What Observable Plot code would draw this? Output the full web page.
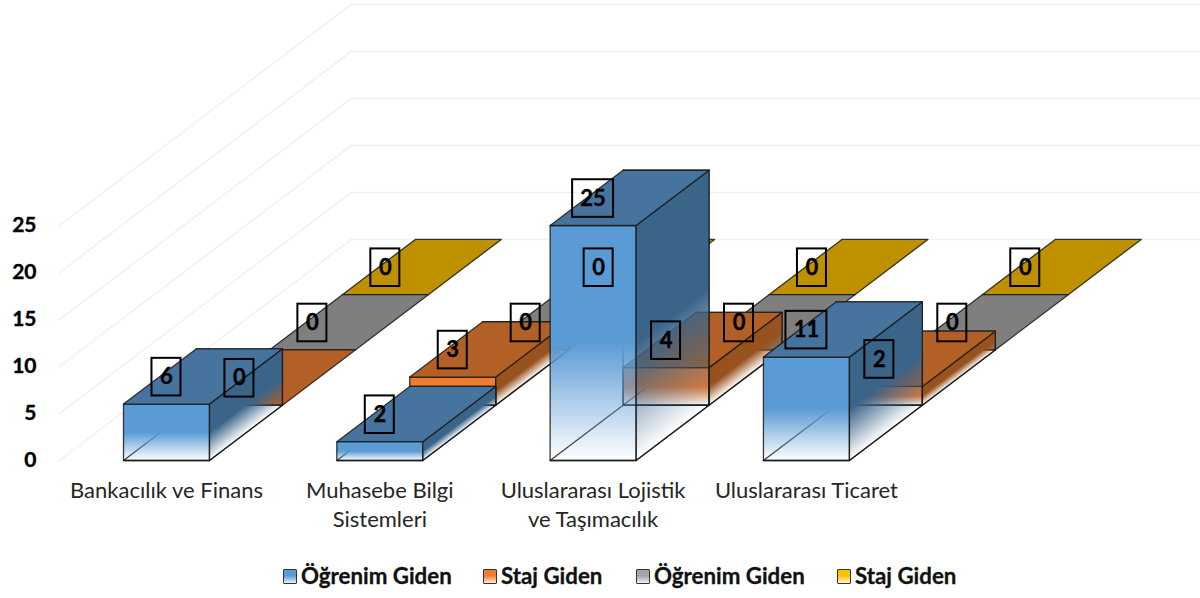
<!DOCTYPE html>
<html>
<head>
<meta charset="utf-8">
<script src="https://cdn.jsdelivr.net/npm/d3@7"></script>
<script src="https://cdn.jsdelivr.net/npm/@observablehq/plot@0.6"></script>
<style>
  html, body { margin: 0; padding: 0; background: #fff; }
  #chart svg { display: block; background: #fff; }
  #chart g[font-weight="700"] { stroke: #000; stroke-width: 0.35px; }
  #legend { position: relative; height: 43px; font: 700 22.3px Lato, sans-serif; color: #111; -webkit-text-stroke: 0.3px #111; }
  #legend .item { position: absolute; top: 8px; display: flex; align-items: center; white-space: nowrap; line-height: 26px; }
  #legend .sw { width: 12px; height: 13px; border: 1.5px solid #333; border-radius: 1px; margin-right: 4px; }
</style>
</head>
<body>
<div id="chart"></div>
<div id="legend"></div>
<script>
const categories = ["Bankacılık ve Finans", "Muhasebe Bilgi\nSistemleri", "Uluslararası Lojistik\nve Taşımacılık", "Uluslararası Ticaret"];
const seriesNames = ["Öğrenim Giden", "Staj Giden", "Öğrenim Giden", "Staj Giden"];
const ogrenim1 = [6, 2, 25, 11];
const staj1 = [0, 3, 4, 2];
const ogrenim2 = [0, 0, 0, 0];
const staj2 = [0, 0, 0, 0];
const yTicks = [0, 5, 10, 15, 20, 25];
const frontColors = ["#5B9BD5", "#ED7D31", "#A5A5A5", "#FFC000"];
const topColors = ["#47749F", "#B26025", "#7F7F7F", "#BF9000"];
const sideColors = ["#3B6489", "#98521E", "#6B6B6B", "#A07900"];
const legendLeft = [283, 483, 636, 837];

const seriesValues = [ogrenim1, staj1, ogrenim2, staj2];

// oblique-projection constants, in scale units
const barW = 0.403;          // bar width in category steps
const depthX = 0.342;        // shift per series along x, in category steps
const depthY = 5.88;         // shift per series along y, in value units
const nSeries = seriesValues.length;
const wallStart = -0.3;
const wallEnd = 5.05;

const edge = "rgba(25,25,25,0.85)";
const wallColor = "#f0f0f0";

const gradients = [];
const faces = [];

function face(points, fill, stroke = edge, strokeWidth = 1.3) {
  faces.push(Plot.line(points, {
    x: d => d[0], y: d => d[1], curve: "linear-closed",
    fill, stroke, strokeWidth, strokeOpacity: 1
  }));
}

// paint back to front
for (let s = nSeries - 1; s >= 0; --s) {
  seriesValues[s].forEach((v, g) => {
    const x0 = g + s * depthX, x1 = x0 + barW;
    const b = s * depthY, t = b + v;
    const bk = (x, y) => [x + depthX, y + depthY];
    if (v > 0) {
      // floor and back edges, seen through the faded faces
      face([[x0, b], [x1, b], bk(x1, b), bk(x0, b)], "none");
      face([bk(x0, b), bk(x0, t)], "none");
      face([bk(x1, b), bk(x1, t)], "none");
      face([bk(x0, t), bk(x1, t)], "none");
      const id = `g${s}-${g}`;
      const k = depthY / (v + depthY);
      const m = (1 - k) / (k * k + 1);
      gradients.push({id: `${id}-f`, color: frontColors[s], x1: 0, y1: 0, x2: 0, y2: 1});
      gradients.push({id: `${id}-s`, color: sideColors[s], x1: 0, y1: k, x2: k * m, y2: k + m});
      face([[x0, b], [x1, b], [x1, t], [x0, t]], `url(#${id}-f)`);
      face([[x1, b], bk(x1, b), bk(x1, t), [x1, t]], `url(#${id}-s)`);
    }
    face([[x0, t], [x1, t], bk(x1, t), bk(x0, t)], topColors[s]);
  });
}

// data label table
const labels = seriesValues.flatMap((vals, s) => vals.map((v, g) => ({
  v,
  x: g + s * depthX + barW / 2,
  y: s * depthY + v + 2.87
})));

// label box half-sizes, in scale units
const boxW = d => (String(d.v).length > 1 ? 0.096 : 0.068);
const boxH = 2.0;

const plot = Plot.plot({
  width: 1200,
  height: 555,
  marginLeft: 38,
  marginRight: 0,
  marginTop: 0,
  marginBottom: 95,
  x: {type: "linear", domain: [-0.3985, 5.049], axis: null},
  y: {type: "linear", domain: [0, 48.94], axis: null},
  style: {background: "#fff", overflow: "visible"},
  marks: [
    // back wall
    Plot.ruleY(yTicks, {
      y: d => d + nSeries * depthY,
      x1: wallStart + nSeries * depthX,
      x2: wallEnd,
      stroke: wallColor, strokeWidth: 1.5
    }),
    // left wall
    ...yTicks.map(t => Plot.line([[wallStart, t], [wallStart + nSeries * depthX, t + nSeries * depthY]], {
      x: d => d[0], y: d => d[1], stroke: wallColor, strokeWidth: 1.5
    })),
    ...faces,
    Plot.axisY(yTicks, {
      anchor: "left", tickSize: 0, tickPadding: 2, label: null,
      fontSize: 21, fontWeight: 700, fontFamily: "Lato, sans-serif", fill: "#000"
    }),
    Plot.text(categories, {
      x: (d, i) => i + barW / 2, y: () => 0,
      text: d => d, dy: 17, lineAnchor: "top", lineHeight: 1.32,
      fontSize: 22, fontFamily: "Lato, sans-serif", fill: "#262626"
    }),
    Plot.rect(labels, {
      x1: d => d.x - boxW(d), x2: d => d.x + boxW(d),
      y1: d => d.y - boxH, y2: d => d.y + boxH,
      fill: "none", stroke: "#000", strokeWidth: 2, inset: 0
    }),
    Plot.text(labels, {
      x: "x", y: "y", text: d => String(d.v),
      fontSize: 22, fontWeight: 700, fontFamily: "Lato, sans-serif", fill: "#000"
    })
  ]
});

// gradient definitions: opaque to the middle of the face, fading out to the bottom
const defs = d3.select(plot).insert("defs", ":first-child");
for (const g of gradients) {
  const lg = defs.append("linearGradient").attr("id", g.id)
    .attr("x1", g.x1).attr("y1", g.y1).attr("x2", g.x2).attr("y2", g.y2);
  lg.append("stop").attr("offset", 0).attr("stop-color", g.color);
  lg.append("stop").attr("offset", 0.5).attr("stop-color", g.color);
  lg.append("stop").attr("offset", 1).attr("stop-color", g.color).attr("stop-opacity", 0);
}
document.getElementById("chart").append(plot);

const legend = d3.select("#legend");
seriesNames.forEach((name, i) => {
  const it = legend.append("div").attr("class", "item").style("left", legendLeft[i] + "px");
  it.append("div").attr("class", "sw")
    .style("background", `linear-gradient(${frontColors[i]} 45%, #fff 110%)`);
  it.append("span").text(name);
});
</script>
</body>
</html>
